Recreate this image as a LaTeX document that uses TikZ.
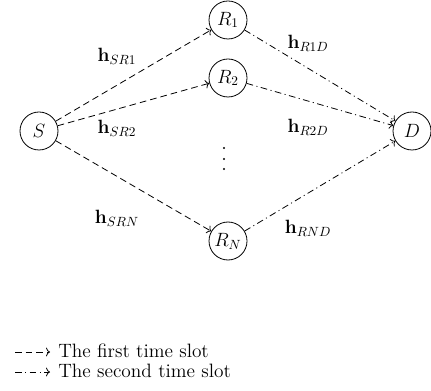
\documentclass[tikz,border=0pt]{standalone}
\usetikzlibrary{arrows.meta}
\begin{document}
\begin{tikzpicture}[x=0.75pt,y=-0.75pt,
  every node/.style={font=\fontsize{14.5}{17}\selectfont},
  nd/.style={circle,draw,line width=0.6pt,minimum size=28.5pt,inner sep=0pt},
  tip/.style={-{To[length=3pt,width=6.5pt]}},
  first/.style={tip,line width=0.6pt,dash pattern=on 5pt off 3pt},
  second/.style={tip,line width=0.6pt,dash pattern=on 5pt off 2.6pt on 0.8pt off 2.6pt},
  dotn/.style={circle,fill,inner sep=0pt,minimum size=1.7pt},
  lab/.style={inner sep=1pt}]
\useasboundingbox (0,0) rectangle (431,391);
\node[nd] (S) at (39,131) {$S$};
\node[nd] (R1) at (228,20) {$R_1$};
\node[nd] (R2) at (228,78) {$R_2$};
\node[nd] (RN) at (228,241) {$R_N$};
\node[nd] (D) at (412,131) {$D$};
\node[dotn] (d1) at (224,148) {};
\node[dotn] (d2) at (224,159) {};
\node[dotn] (d3) at (224,169) {};
\draw[first] (S) -- (R1);
\draw[first] (S) -- (R2);
\draw[first] (S) -- (RN);
\draw[second] (R1) -- (D);
\draw[second] (R2) -- (D);
\draw[second] (RN) -- (D);
\node[lab] (h1) at (117,56) {$\mathbf{h}_{SR1}$};
\node[lab] (h2) at (117,128) {$\mathbf{h}_{SR2}$};
\node[lab] (hN) at (117,218) {$\mathbf{h}_{SRN}$};
\node[lab] (g1) at (308,43) {$\mathbf{h}_{R1D}$};
\node[lab] (g2) at (308,127) {$\mathbf{h}_{R2D}$};
\node[lab] (gN) at (308,228) {$\mathbf{h}_{RND}$};
\coordinate (a1) at (15,352);
\coordinate (b1) at (50,352);
\coordinate (a2) at (15,372);
\coordinate (b2) at (50,372);
\draw[first] (a1) -- (b1);
\draw[second] (a2) -- (b2);
\node[anchor=base west,inner sep=0pt] (t1) at (58,357) {The first time slot};
\node[anchor=base west,inner sep=0pt] (t2) at (58,377) {The second time slot};
\end{tikzpicture}
\end{document}
